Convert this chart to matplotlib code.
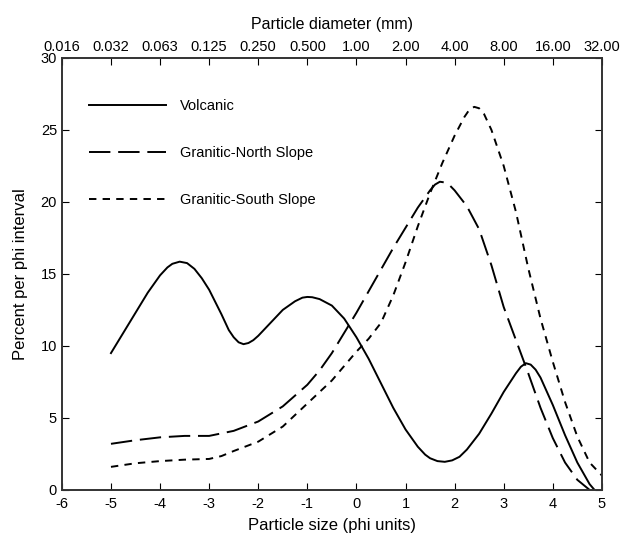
import matplotlib
matplotlib.use("Agg")
import matplotlib.pyplot as plt

plt.rcParams['font.family'] = ['Liberation Sans', 'DejaVu Sans']
plt.rcParams['axes.unicode_minus'] = False

# values, phi units vs percent per phi interval
volcanic_phi = [-5.0, -4.75, -4.5, -4.25, -4.0, -3.85, -3.75, -3.6, -3.45, -3.3,
                -3.15, -3.0, -2.75, -2.6, -2.5, -2.4, -2.3, -2.2, -2.1, -2.0,
                -1.75, -1.5, -1.25, -1.1, -1.0, -0.9, -0.75, -0.5, -0.25, 0.0,
                0.25, 0.5, 0.75, 1.0, 1.25, 1.4, 1.5, 1.65, 1.8, 1.95,
                2.1, 2.25, 2.5, 2.75, 3.0, 3.25, 3.35, 3.45, 3.55, 3.65,
                3.75, 4.0, 4.25, 4.5, 4.75, 4.85]
volcanic_pct = [9.5, 10.9, 12.3, 13.7, 14.9, 15.45, 15.7, 15.85, 15.75, 15.35,
                14.7, 13.9, 12.2, 11.1, 10.6, 10.25, 10.12, 10.2, 10.4, 10.7,
                11.6, 12.5, 13.1, 13.35, 13.4, 13.38, 13.25, 12.8, 11.9, 10.6,
                9.1, 7.4, 5.7, 4.2, 3.0, 2.45, 2.2, 2.0, 1.95, 2.05,
                2.3, 2.8, 3.9, 5.3, 6.8, 8.1, 8.55, 8.8, 8.7, 8.35,
                7.8, 5.9, 3.8, 1.9, 0.4, 0.0]

north_phi = [-5.0, -4.5, -4.0, -3.5, -3.0, -2.5, -2.0, -1.5, -1.0, -0.75,
             -0.5, -0.25, 0.0, 0.25, 0.5, 0.75, 1.0, 1.25, 1.5, 1.6,
             1.7, 1.8, 1.9, 2.0, 2.25, 2.5, 2.75, 3.0, 3.25, 3.5,
             3.75, 4.0, 4.25, 4.5, 4.75]
north_pct = [3.2, 3.45, 3.65, 3.75, 3.75, 4.1, 4.75, 5.8, 7.3, 8.3,
             9.5, 10.9, 12.3, 13.8, 15.3, 16.8, 18.2, 19.6, 20.8, 21.2,
             21.4, 21.35, 21.15, 20.8, 19.7, 18.1, 15.6, 12.7, 10.4, 8.1,
             5.7, 3.6, 1.9, 0.7, 0.0]

south_phi = [-5.0, -4.5, -4.0, -3.5, -3.0, -2.75, -2.5, -2.0, -1.5, -1.0,
             -0.5, 0.0, 0.25, 0.5, 0.75, 1.0, 1.25, 1.5, 1.75, 2.0,
             2.2, 2.3, 2.4, 2.5, 2.6, 2.75, 3.0, 3.25, 3.5, 3.75,
             4.0, 4.25, 4.5, 4.75, 5.0]
south_pct = [1.6, 1.85, 2.0, 2.1, 2.15, 2.35, 2.7, 3.35, 4.4, 6.0,
             7.6, 9.6, 10.5, 11.6, 13.5, 15.8, 18.3, 20.6, 22.7, 24.6,
             25.9, 26.4, 26.6, 26.5, 26.1, 25.0, 22.5, 19.3, 15.4, 11.9,
             8.9, 6.1, 3.7, 1.9, 1.0]

phi_ticks = [-6, -5, -4, -3, -2, -1, 0, 1, 2, 3, 4, 5]
diameter_labels = ['0.016', '0.032', '0.063', '0.125', '0.250', '0.500',
                   '1.00', '2.00', '4.00', '8.00', '16.00', '32.00']

fig = plt.figure(figsize=(6.25, 5.36), dpi=100)
ax = fig.add_axes([0.099, 0.086, 0.864, 0.806])

lw = 1.4
ax.plot(volcanic_phi, volcanic_pct, color='black', lw=lw, label='Volcanic',
        solid_joinstyle='round')
ax.plot(north_phi, north_pct, color='black', lw=lw, dashes=(11, 4),
        label='Granitic-North Slope')
ax.plot(south_phi, south_pct, color='black', lw=lw, dashes=(3.8, 3.2),
        label='Granitic-South Slope')

ax.set_xlim(-6, 5)
ax.set_ylim(0, 30)
ax.set_xticks(phi_ticks)
ax.set_yticks([0, 5, 10, 15, 20, 25, 30])
ax.tick_params(direction='in', length=5, labelsize=10.5, right=True)
ax.tick_params(axis='x', pad=5)
ax.set_xlabel('Particle size (phi units)', fontsize=12, labelpad=5)
ax.set_ylabel('Percent per phi interval', fontsize=12, labelpad=9)

top = ax.twiny()
top.set_xlim(ax.get_xlim())
top.set_xticks(phi_ticks)
top.set_xticklabels(diameter_labels)
top.tick_params(direction='in', length=5, labelsize=10.5, pad=3)
top.set_xlabel('Particle diameter (mm)', fontsize=11.5, labelpad=8)

for a in (ax, top):
    for s in a.spines.values():
        s.set_color('#333333')
        s.set_linewidth(1.2)

ax.legend(loc='upper left', bbox_to_anchor=(0.025, 0.935), frameon=False,
          handlelength=5.3, handletextpad=1.0, labelspacing=2.25,
          fontsize=10.5)

fig.savefig('out.png', dpi=100)
